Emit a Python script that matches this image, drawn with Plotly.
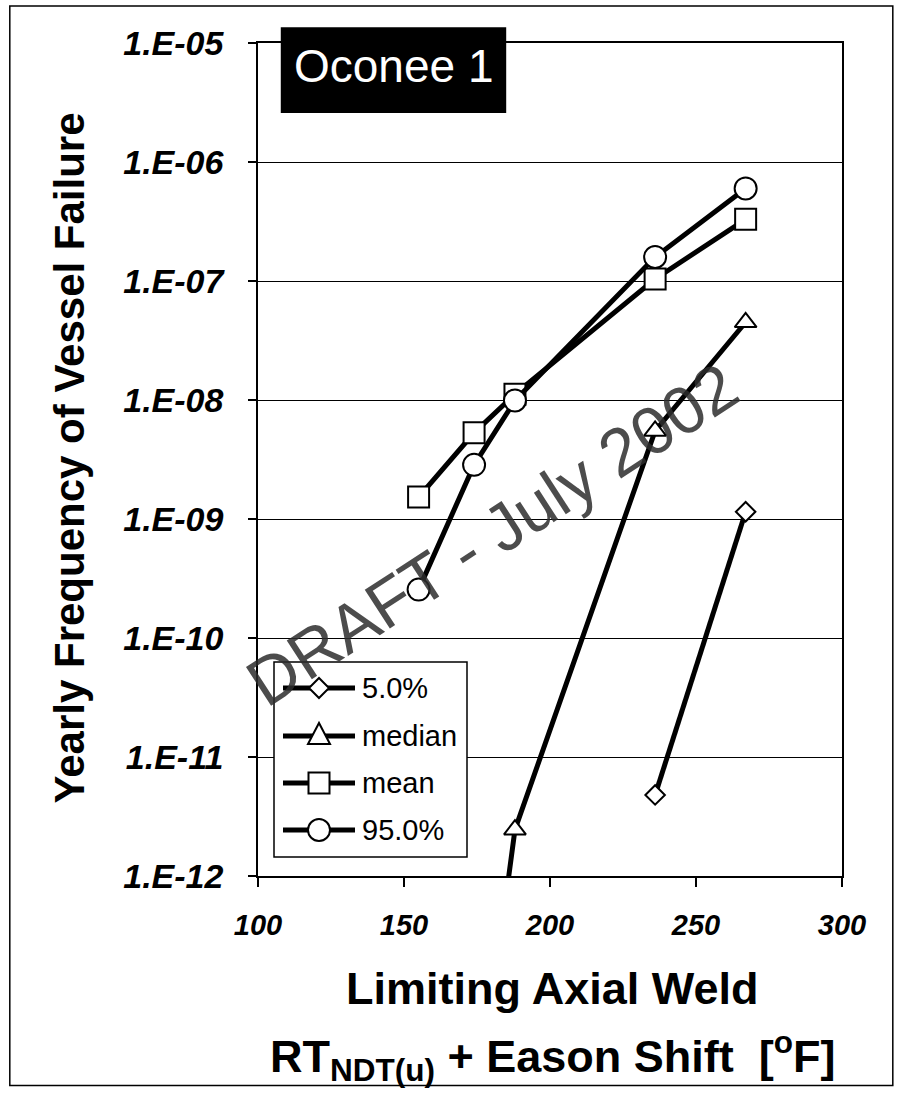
import plotly.graph_objects as go

# ---- data ----
x_vals = [155, 174, 188, 236, 267]
p05 = [None, None, None, 4.8e-12, 1.15e-9]
median = [None, 6.5e-15, 2.45e-12, 5.5e-9, 4.5e-8]
mean = [1.53e-9, 5.3e-9, 1.12e-8, 1.04e-7, 3.3e-7]
p95 = [2.55e-10, 2.85e-9, 9.9e-9, 1.59e-7, 6.0e-7]

series_names = ["5.0%", "median", "mean", "95.0%"]
y_tickvals = [1e-12, 1e-11, 1e-10, 1e-9, 1e-8, 1e-7, 1e-6, 1e-5]
y_ticktext = ["1.E-12", "1.E-11", "1.E-10", "1.E-09", "1.E-08", "1.E-07", "1.E-06", "1.E-05"]
x_tickvals = [100, 150, 200, 250, 300]

SANS = "Liberation Sans, Arial, sans-serif"

fig = go.Figure()
styles = [
    dict(symbol="diamond", size=15, path="M 0 -10 L 10 0 L 0 10 L -10 0 Z"),
    dict(symbol="triangle-up", size=19, path="M -11 -8 L 11 -8 L 0 13 Z"),
    dict(symbol="square", size=21, path="M -10.5 -10.5 H 10.5 V 10.5 H -10.5 Z"),
    dict(symbol="circle", size=22, path=None),
]
for name, ys, st in zip(series_names, [p05, median, mean, p95], styles):
    fig.add_trace(go.Scatter(
        x=x_vals, y=ys, name=name, mode="lines+markers",
        line=dict(color="black", width=5),
        marker=dict(symbol=st["symbol"], size=st["size"], color="white",
                    line=dict(color="black", width=2)),
        connectgaps=False, showlegend=False,
    ))

fig.update_layout(
    width=902, height=1095, autosize=False,
    margin=dict(l=258, r=60, t=43, b=219),
    paper_bgcolor="white", plot_bgcolor="white",
    showlegend=False,
    xaxis=dict(
        range=[100, 300], tickvals=x_tickvals, showgrid=False,
        showline=True, linecolor="black", linewidth=1.5, mirror=True,
        ticks="outside", ticklen=9, tickcolor="black", tickwidth=1.5,
        tickfont=dict(family=SANS, size=29, color="black", weight="bold", style="italic"),
        ticklabelstandoff=13, zeroline=False,
    ),
    yaxis=dict(
        type="log", range=[-12, -5], tickvals=y_tickvals, ticktext=y_ticktext,
        showgrid=True, gridcolor="black", gridwidth=1,
        showline=True, linecolor="black", linewidth=1.5, mirror=True,
        ticks="outside", ticklen=8, tickcolor="black", tickwidth=1.5,
        tickfont=dict(family=SANS, size=34, color="black", weight="bold", style="italic"),
        ticklabelstandoff=18, zeroline=False,
    ),
)

# ---- legend box (drawn like the original Excel legend) ----
def px_x(p):
    return (p - 258) / 584.0

def px_y(p):
    return (876 - p) / 833.0

fig.add_shape(type="rect", xref="paper", yref="paper",
              x0=px_x(274), x1=px_x(467), y0=px_y(857), y1=px_y(662),
              fillcolor="white", line=dict(color="black", width=1.5), layer="above")
legend_rows = [688, 736, 783, 830]
for name, st, row in zip(series_names, styles, legend_rows):
    fig.add_shape(type="line", xref="paper", yref="paper",
                  x0=px_x(283), x1=px_x(355), y0=px_y(row), y1=px_y(row),
                  line=dict(color="black", width=5), layer="above")
    if st["path"] is None:
        fig.add_shape(type="circle", xref="paper", yref="paper",
                      xsizemode="pixel", ysizemode="pixel",
                      xanchor=px_x(319), yanchor=px_y(row),
                      x0=-11, x1=11, y0=-11, y1=11,
                      fillcolor="white", line=dict(color="black", width=2), layer="above")
    else:
        fig.add_shape(type="path", xref="paper", yref="paper",
                      xsizemode="pixel", ysizemode="pixel",
                      xanchor=px_x(319), yanchor=px_y(row), path=st["path"],
                      fillcolor="white", line=dict(color="black", width=2), layer="above")
    fig.add_annotation(text=name, xref="paper", yref="paper",
                       x=px_x(360), y=px_y(row), xanchor="left", yanchor="middle",
                       showarrow=False, font=dict(family=SANS, size=29, color="black"))

# axis titles
fig.add_annotation(
    text="Yearly Frequency of Vessel Failure", textangle=-90,
    xref="paper", yref="paper", x=-0.322, y=0.5024, xanchor="center", yanchor="middle",
    showarrow=False, font=dict(family=SANS, size=42, color="black", weight="bold"),
)
fig.add_annotation(
    text="Limiting Axial Weld",
    xref="paper", yref="paper", x=0.505, y=-0.1355, xanchor="center", yanchor="middle",
    showarrow=False, font=dict(family=SANS, size=45, color="black", weight="bold"),
)
fig.add_annotation(
    text="RT<sub>NDT(u)</sub> + Eason Shift\u00a0\u00a0[<sup>o</sup>F]",
    xref="paper", yref="paper", x=0.505, y=-0.2155, xanchor="center", yanchor="middle",
    showarrow=False, font=dict(family=SANS, size=45, color="black", weight="bold"),
)

# plant label box
fig.add_shape(type="rect", xref="paper", yref="paper",
              x0=0.039, x1=0.425, y0=0.916, y1=1.019,
              fillcolor="black", line=dict(color="black", width=0), layer="above")
fig.add_annotation(
    text="Oconee 1", xref="paper", yref="paper", x=0.232, y=0.9724,
    xanchor="center", yanchor="middle", showarrow=False,
    font=dict(family=SANS, size=46, color="white"),
)

# draft watermark
fig.add_annotation(
    text="DRAFT - July 2002", textangle=-33,
    xref="paper", yref="paper", x=0.40, y=0.41, xanchor="center", yanchor="middle",
    showarrow=False, font=dict(family=SANS, size=67, color="rgba(45,45,45,0.85)"),
)

# outer frame
fig.add_shape(type="rect", xref="paper", yref="paper",
              x0=-0.425, x1=1.087, y0=-0.2515, y1=1.0444,
              line=dict(color="black", width=1.5), fillcolor="rgba(0,0,0,0)", layer="above")

fig.write_html("out.html", config={"displayModeBar": False},
               post_script="document.body.style.margin='0px';")
